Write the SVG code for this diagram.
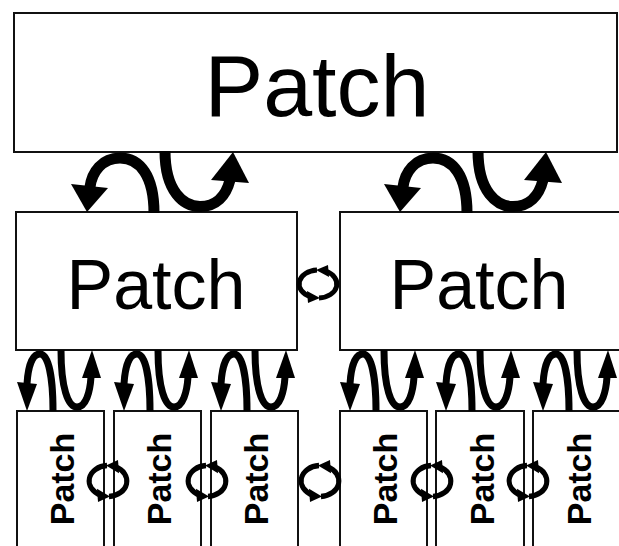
<svg xmlns="http://www.w3.org/2000/svg" width="619" height="546" viewBox="0 0 619 546">
<style>
.box{fill:#fff;stroke:#111;stroke-width:2}
.big{font-family:"Liberation Sans",Arial,sans-serif;text-anchor:middle;fill:#000}
.small{font-family:"Liberation Sans",Arial,sans-serif;font-weight:bold;font-size:34px;text-anchor:middle;fill:#000}
.arc{fill:none;stroke:#000}
.hd{fill:#000}
</style>
<defs>
<g id="bigpair">
<path class="arc" stroke-width="11" d="M154,213 C154,176 140,158 120,158 C102,158 92,172 90,187"/>
<polygon class="hd" points="71,184 108,188 87,212"/>
<path class="arc" stroke-width="11" d="M165,151 C165,192 184,206.5 200,206.5 C216,206.5 226,196 230,180"/>
<polygon class="hd" points="211,180 249,183 233,152"/>
</g>
<g id="smallpair">
<path class="arc" stroke-width="7" d="M53,411 C53,376 48,354 40,354 C32,354 28,367 27,384"/>
<polygon class="hd" points="17,382 37,384 27,411"/>
<path class="arc" stroke-width="7" d="M61,350 C61,388 68,407 77,407 C86,407 90,392 91,377"/>
<polygon class="hd" points="82,378 101,378 92,350"/>
</g>
<g id="cyc">
<path class="arc" stroke-width="5" d="M-1,-14 A19 14 0 0 0 -7.5,12.8"/>
<polygon class="hd" points="-11,7 -10,19 2,14"/>
<path class="arc" stroke-width="5" d="M1,14 A19 14 0 0 0 7.5,-12.8"/>
<polygon class="hd" points="11,-7 10,-19 -2,-14"/>
</g>
</defs>
<g id="top">
<rect class="box" x="14" y="13" width="603" height="139"/>
<text class="big" x="317" y="116" font-size="88">Patch</text>
</g>
<g id="mid-left">
<rect class="box" x="16" y="212" width="281" height="138"/>
<text class="big" x="156" y="309" font-size="70">Patch</text>
</g>
<g id="mid-right">
<rect class="box" x="340" y="212" width="285" height="138"/>
<text class="big" x="479" y="309" font-size="70">Patch</text>
</g>
<g id="b1"><rect class="box" x="17" y="411" width="87" height="145"/><text class="small" transform="translate(74,479) rotate(-90)">Patch</text></g>
<g id="b2"><rect class="box" x="114" y="411" width="87" height="145"/><text class="small" transform="translate(171,479) rotate(-90)">Patch</text></g>
<g id="b3"><rect class="box" x="211" y="411" width="87" height="145"/><text class="small" transform="translate(268,479) rotate(-90)">Patch</text></g>
<g id="b4"><rect class="box" x="340" y="411" width="87" height="145"/><text class="small" transform="translate(397,479) rotate(-90)">Patch</text></g>
<g id="b5"><rect class="box" x="436" y="411" width="88" height="145"/><text class="small" transform="translate(494,479) rotate(-90)">Patch</text></g>
<g id="b6"><rect class="box" x="533" y="411" width="95" height="145"/><text class="small" transform="translate(591,479) rotate(-90)">Patch</text></g>
<g id="connectors">
<use href="#bigpair"/>
<use href="#bigpair" transform="translate(313,0)"/>
<use href="#smallpair"/>
<use href="#smallpair" transform="translate(97,0)"/>
<use href="#smallpair" transform="translate(194,0)"/>
<use href="#smallpair" transform="translate(323,0)"/>
<use href="#smallpair" transform="translate(419,0)"/>
<use href="#smallpair" transform="translate(516,0)"/>
<use href="#cyc" transform="translate(318,284)"/>
<use href="#cyc" transform="translate(108,481) scale(1,1.1)"/>
<use href="#cyc" transform="translate(207,481) scale(1,1.1)"/>
<use href="#cyc" transform="translate(320,481) scale(1,1.1)"/>
<use href="#cyc" transform="translate(432,481) scale(1,1.1)"/>
<use href="#cyc" transform="translate(528,481) scale(1,1.1)"/>
</g>
</svg>
